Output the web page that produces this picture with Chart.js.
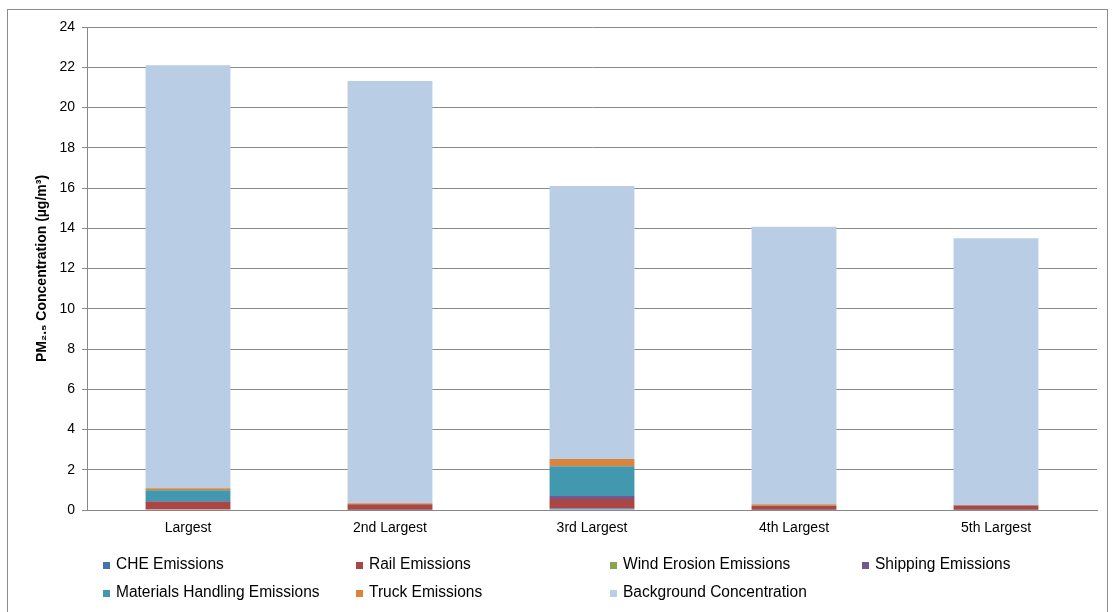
<!DOCTYPE html>
<html>
<head>
<meta charset="utf-8">
<script src="https://cdn.jsdelivr.net/npm/chart.js@4"></script>
<style>
  html, body { margin:0; padding:0; background:#fff; }
  #wrap { position:relative; width:1115px; height:612px; }
  #frame { position:absolute; left:7px; top:9px; width:1101px; height:620px; border:1px solid #8c8c8c; box-sizing:border-box; }
</style>
</head>
<body>
<div id="wrap">
  <div id="frame"></div>
  <canvas id="c" width="1115" height="612"></canvas>
</div>
<script>
'use strict';
const categories = ['Largest','2nd Largest','3rd Largest','4th Largest','5th Largest'];
const seriesNames = ['CHE Emissions','Rail Emissions','Wind Erosion Emissions','Shipping Emissions',
  'Materials Handling Emissions','Truck Emissions','Background Concentration'];
const cheVals        = [0.02, 0.01, 0.08, 0.01, 0.01];
const railVals       = [0.38, 0.27, 0.47, 0.19, 0.21];
const windVals       = [0.00, 0.00, 0.00, 0.00, 0.00];
const shippingVals   = [0.03, 0.01, 0.15, 0.01, 0.01];
const materialsVals  = [0.55, 0.00, 1.47, 0.00, 0.00];
const truckVals      = [0.10, 0.05, 0.37, 0.07, 0.02];
const backgroundVals = [21.02, 20.98, 13.56, 13.80, 13.25];
const yTicks = [0,2,4,6,8,10,12,14,16,18,20,22,24];
const colors = ['#4572A7','#AA4643','#89A54E','#71588F','#4198AF','#DB843D','#B9CDE5'];
const allVals = [cheVals, railVals, windVals, shippingVals, materialsVals, truckVals, backgroundVals];

// legend drawn on a fixed grid like the original
const gridLegend = {
  id:'gridLegend',
  afterDraw(chart) {
    const ctx = chart.ctx;
    const cols = [103, 356, 610, 862], rows = [565, 593];
    ctx.save();
    ctx.font = '16px "Liberation Sans", Arial, sans-serif';
    ctx.textBaseline = 'middle';
    chart.data.datasets.forEach((ds,i) => {
      const x = cols[i%4], y = rows[Math.floor(i/4)];
      ctx.fillStyle = ds.backgroundColor;
      ctx.fillRect(x, y-3, 7, 7);
      ctx.fillStyle = '#000';
      ctx.save();
      ctx.translate(x+13, y);
      ctx.scale(0.97, 1);
      ctx.fillText(ds.label, 0, 0);
      ctx.restore();
    });
    ctx.restore();
  }
};

new Chart(document.getElementById('c').getContext('2d'), {
  type:'bar',
  data:{
    labels:categories,
    datasets:seriesNames.map((n,i)=>({ label:n, data:allVals[i], backgroundColor:colors[i],
      borderWidth:0, barPercentage:0.42, categoryPercentage:1 }))
  },
  options:{
    responsive:false, animation:false,
    layout:{ padding:{ top:27, right:18, bottom:72, left:34 } },
    plugins:{ legend:{ display:false }, tooltip:{ enabled:false } },
    scales:{
      x:{
        stacked:true,
        grid:{ display:false, drawTicks:true, tickLength:6, color:'#888' },
        border:{ color:'#888', width:1 },
        ticks:{ color:'#000', font:{ family:'"Liberation Sans", Arial', size:14 }, padding:4 },
        afterFit(s){ s.height = 30; }
      },
      y:{
        stacked:true, min:0, max:24,
        afterBuildTicks(s){ s.ticks = yTicks.map(v=>({ value:v })); },
        grid:{ color:'#8a8a8a', tickLength:5 },
        border:{ color:'#888', width:1 },
        ticks:{ color:'#000', font:{ family:'"Liberation Sans", Arial', size:14 }, padding:7 },
        title:{ display:true, text:'PM₂.₅ Concentration (µg/m³)', color:'#000',
          font:{ family:'"Liberation Sans", Arial', size:14, weight:'bold' }, padding:{ top:0, bottom:4 } },
        afterFit(s){ s.width = 53; }
      }
    }
  },
  plugins:[gridLegend]
});
</script>
</body>
</html>
